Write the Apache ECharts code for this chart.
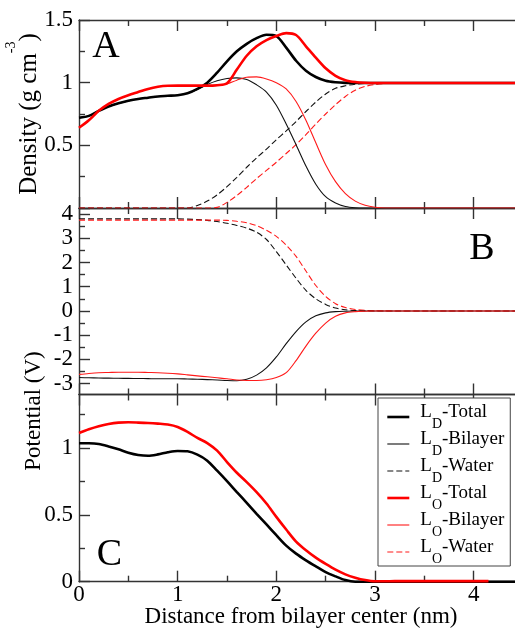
<!DOCTYPE html>
<html>
<head>
<meta charset="utf-8">
<script src="https://cdn.jsdelivr.net/npm/echarts@6/dist/echarts.min.js"></script>
<style>
  html, body { margin: 0; padding: 0; background: #fff; }
  #chart { width: 515px; height: 628px; }
</style>
</head>
<body>
<div id="chart"></div>
<script>
// Distance from bilayer center (nm), shared by panels A and B
const distance = [0, 0.1, 0.2, 0.3, 0.4, 0.5, 0.6, 0.7, 0.8, 0.9,
  1.0, 1.1, 1.2, 1.3, 1.4, 1.5, 1.6, 1.7, 1.8, 1.9,
  2.0, 2.1, 2.2, 2.3, 2.4, 2.5, 2.6, 2.7, 2.8, 2.9,
  3.0, 3.1, 3.2, 3.5, 4.0, 4.5];

// Panel A: mass density (g cm^-3)
const densityLdTotal = [0.72, 0.735, 0.775, 0.81, 0.835, 0.855, 0.87, 0.88, 0.89, 0.895,
  0.90, 0.915, 0.95, 1.00, 1.08, 1.17, 1.25, 1.31, 1.355, 1.382,
  1.372, 1.28, 1.175, 1.095, 1.045, 1.015, 1.003, 0.998, 0.997, 0.997,
  0.997, 0.997, 0.997, 0.997, 0.997, 0.997];
const densityLdBilayer = [0.72, 0.735, 0.775, 0.81, 0.835, 0.855, 0.87, 0.88, 0.89, 0.895,
  0.90, 0.915, 0.945, 0.985, 1.015, 1.033, 1.038, 1.025, 0.983, 0.925,
  0.82, 0.67, 0.505, 0.335, 0.19, 0.09, 0.04, 0.012, 0.002, 0,
  0, 0, 0, 0, 0, 0];
const densityLdWater = [0, 0, 0, 0, 0, 0, 0, 0, 0, 0,
  0, 0, 0.02, 0.055, 0.105, 0.17, 0.245, 0.325, 0.40, 0.47,
  0.545, 0.615, 0.69, 0.77, 0.845, 0.91, 0.955, 0.975, 0.988, 0.994,
  0.997, 0.997, 0.997, 0.997, 0.997, 0.997];
const densityLoTotal = [0.64, 0.70, 0.775, 0.83, 0.87, 0.90, 0.925, 0.95, 0.967, 0.975,
  0.976, 0.976, 0.976, 0.976, 0.98, 0.995, 1.105, 1.215, 1.29, 1.34,
  1.372, 1.395, 1.38, 1.29, 1.2, 1.115, 1.055, 1.02, 1.005, 0.999,
  0.997, 0.997, 0.997, 0.997, 0.997, 0.997];
const densityLoBilayer = [0.64, 0.70, 0.775, 0.83, 0.87, 0.90, 0.925, 0.95, 0.967, 0.975,
  0.976, 0.976, 0.976, 0.976, 0.978, 0.99, 1.02, 1.043, 1.046, 1.03,
  1.0, 0.95, 0.85, 0.70, 0.52, 0.345, 0.21, 0.115, 0.055, 0.022,
  0.006, 0, 0, 0, 0, 0];
const densityLoWater = [0, 0, 0, 0, 0, 0, 0, 0, 0, 0,
  0, 0, 0, 0, 0.005, 0.045, 0.10, 0.165, 0.235, 0.30,
  0.365, 0.435, 0.505, 0.585, 0.67, 0.75, 0.825, 0.89, 0.94, 0.97,
  0.985, 0.993, 0.996, 0.997, 0.997, 0.997];

// Panel B: electrostatic potential of each component (V)
const potentialLdBilayer = [-2.75, -2.76, -2.77, -2.775, -2.78, -2.785, -2.79, -2.795, -2.80, -2.80,
  -2.80, -2.81, -2.82, -2.835, -2.85, -2.87, -2.88, -2.82, -2.65, -2.35,
  -1.9, -1.35, -0.85, -0.45, -0.2, -0.08, -0.03, -0.01, 0, 0,
  0, 0, 0, 0, 0, 0];
const potentialLdWater = [3.80, 3.80, 3.80, 3.80, 3.80, 3.80, 3.80, 3.80, 3.80, 3.80,
  3.80, 3.79, 3.77, 3.74, 3.69, 3.62, 3.53, 3.42, 3.25, 2.95,
  2.45, 1.9, 1.35, 0.85, 0.5, 0.27, 0.12, 0.05, 0.015, 0.003,
  0, 0, 0, 0, 0, 0];
const potentialLoBilayer = [-2.62, -2.58, -2.55, -2.54, -2.53, -2.53, -2.53, -2.54, -2.55, -2.57,
  -2.60, -2.64, -2.68, -2.72, -2.76, -2.80, -2.85, -2.87, -2.87, -2.84,
  -2.75, -2.55, -2.05, -1.45, -0.92, -0.5, -0.22, -0.08, -0.03, -0.01,
  0, 0, 0, 0, 0, 0];
const potentialLoWater = [3.75, 3.75, 3.75, 3.75, 3.75, 3.75, 3.75, 3.75, 3.75, 3.75,
  3.75, 3.75, 3.75, 3.75, 3.75, 3.74, 3.70, 3.64, 3.52, 3.33,
  3.08, 2.72, 2.25, 1.65, 1.05, 0.6, 0.3, 0.14, 0.06, 0.025,
  0.01, 0.003, 0, 0, 0, 0];

// Panel C: total potential (V)
const distanceC = [0, 0.1, 0.2, 0.3, 0.4, 0.5, 0.6, 0.7, 0.8, 0.9,
  1.0, 1.1, 1.2, 1.3, 1.4, 1.5, 1.6, 1.7, 1.8, 1.9,
  2.0, 2.1, 2.2, 2.3, 2.4, 2.5, 2.6, 2.7, 2.8, 2.9,
  3.0, 3.1, 3.2, 3.5, 4.0, 4.15, 4.5];
const totalPotentialLd = [1.035, 1.035, 1.03, 1.012, 0.99, 0.965, 0.948, 0.942, 0.952, 0.968,
  0.978, 0.975, 0.95, 0.905, 0.83, 0.752, 0.67, 0.59, 0.508, 0.428,
  0.348, 0.27, 0.21, 0.16, 0.115, 0.072, 0.04, 0.012, 0, 0,
  0, 0, 0, 0, 0, 0, 0];
const totalPotentialLo = [1.112, 1.14, 1.163, 1.18, 1.19, 1.192, 1.19, 1.187, 1.182, 1.175,
  1.157, 1.12, 1.075, 1.037, 0.98, 0.895, 0.815, 0.745, 0.67, 0.585,
  0.485, 0.39, 0.30, 0.235, 0.18, 0.133, 0.09, 0.055, 0.03, 0.012,
  0.003, 0.003, 0.004, 0.004, 0.004, 0.004, null];

// Tick positions
const xMajorTicks = [0, 1, 2, 3, 4];
const xMinorTicks = [0.5, 1.5, 2.5, 3.5];
const densityMajorTicks = [0, 0.5, 1, 1.5];
const densityLabels = [0.5, 1, 1.5];
const densityMinorTicks = [0.25, 0.75, 1.25];
const potentialMajorTicks = [-3, -2, -1, 0, 1, 2, 3, 4];
const potentialMinorTicks = [-2.5, -1.5, -0.5, 0.5, 1.5, 2.5, 3.5];
const totalMajorTicks = [0, 0.5, 1];
const totalMinorTicks = [0.25, 0.75, 1.25];

// Legend entries: [subscript, suffix]
const seriesNames = ['LD-Total', 'LD-Bilayer', 'LD-Water', 'LO-Total', 'LO-Bilayer', 'LO-Water'];
const legendParts = {
  'LD-Total': ['D', '-Total'], 'LD-Bilayer': ['D', '-Bilayer'], 'LD-Water': ['D', '-Water'],
  'LO-Total': ['O', '-Total'], 'LO-Bilayer': ['O', '-Bilayer'], 'LO-Water': ['O', '-Water']
};

const SERIF = '"Liberation Serif", "Times New Roman", serif';
const frame = { color: '#333', width: 1.4 };
const MAJOR_LEN = 11, MINOR_LEN = 6;

const grids = [
  { left: 79, top: 20, width: 444, height: 188, outerBoundsMode: 'none' },
  { left: 79, top: 208, width: 444, height: 186.5, outerBoundsMode: 'none' },
  { left: 79, top: 394.5, width: 444, height: 187.2, outerBoundsMode: 'none' }
];

const tickLabel = { fontFamily: SERIF, fontSize: 23, color: '#000' };

function xAxesFor(g, withLabels) {
  const base = { type: 'value', gridIndex: g, min: 0, max: 4.5, splitLine: { show: false } };
  const tick = (vals, len) => ({ show: true, inside: true, length: len, lineStyle: frame, customValues: vals });
  return [
    Object.assign({}, base, { position: 'bottom', axisLine: { show: true, onZero: false, lineStyle: frame },
      axisTick: tick(xMajorTicks, MAJOR_LEN),
      axisLabel: withLabels ? Object.assign({ show: true, margin: 2, customValues: xMajorTicks }, tickLabel) : { show: false } }),
    Object.assign({}, base, { position: 'bottom', axisLine: { show: false, onZero: false },
      axisTick: tick(xMinorTicks, MINOR_LEN), axisLabel: { show: false } }),
    Object.assign({}, base, { position: 'top', axisLine: { show: true, onZero: false, lineStyle: frame },
      axisTick: tick(xMajorTicks, MAJOR_LEN), axisLabel: { show: false } }),
    Object.assign({}, base, { position: 'top', axisLine: { show: false, onZero: false },
      axisTick: tick(xMinorTicks, MINOR_LEN), axisLabel: { show: false } })
  ];
}

function yAxesFor(g, min, max, major, minor, labels) {
  const base = { type: 'value', gridIndex: g, min: min, max: max, position: 'left', splitLine: { show: false } };
  return [
    Object.assign({}, base, { axisLine: { show: true, onZero: false, lineStyle: frame },
      axisTick: { show: true, inside: true, length: MAJOR_LEN, lineStyle: frame, customValues: major },
      axisLabel: Object.assign({ show: true, margin: 6, customValues: labels }, tickLabel) }),
    Object.assign({}, base, { axisLine: { show: false, onZero: false },
      axisTick: { show: true, inside: true, length: MINOR_LEN, lineStyle: frame, customValues: minor },
      axisLabel: { show: false } })
  ];
}

const xAxis = [].concat(xAxesFor(0, false), xAxesFor(1, false), xAxesFor(2, true));
const yAxis = [].concat(
  yAxesFor(0, 0, 1.5, densityMajorTicks, densityMinorTicks, densityLabels),
  yAxesFor(1, -3.45, 4.25, potentialMajorTicks, potentialMinorTicks, potentialMajorTicks),
  yAxesFor(2, 0, 1.4, totalMajorTicks, totalMinorTicks, totalMajorTicks)
);

const styles = {
  'LD-Total':   { color: '#000', width: 2.6, type: 'solid' },
  'LD-Bilayer': { color: '#111', width: 1.1, type: 'solid' },
  'LD-Water':   { color: '#111', width: 1.1, type: [6, 3] },
  'LO-Total':   { color: '#ff0000', width: 2.6, type: 'solid' },
  'LO-Bilayer': { color: '#ff1a1a', width: 1.1, type: 'solid' },
  'LO-Water':   { color: '#ff1a1a', width: 1.1, type: [6, 3] }
};

function line(name, panel, xs, ys) {
  const st = styles[name];
  return {
    type: 'line', name: name,
    xAxisIndex: panel * 4, yAxisIndex: panel * 2,
    data: xs.map((x, i) => [x, ys[i]]),
    showSymbol: false, symbol: 'none',
    smooth: 0.3,
    connectNulls: false,
    lineStyle: { color: st.color, width: st.width, type: st.type },
    itemStyle: { color: st.color },
    emphasis: { disabled: true },
    silent: true
  };
}

const series = [
  line('LD-Water', 0, distance, densityLdWater),
  line('LO-Water', 0, distance, densityLoWater),
  line('LD-Bilayer', 0, distance, densityLdBilayer),
  line('LO-Bilayer', 0, distance, densityLoBilayer),
  line('LD-Total', 0, distance, densityLdTotal),
  line('LO-Total', 0, distance, densityLoTotal),

  line('LD-Water', 1, distance, potentialLdWater),
  line('LO-Water', 1, distance, potentialLoWater),
  line('LD-Bilayer', 1, distance, potentialLdBilayer),
  line('LO-Bilayer', 1, distance, potentialLoBilayer),

  line('LD-Total', 2, distanceC, totalPotentialLd),
  line('LO-Total', 2, distanceC, totalPotentialLo)
];

function panelLetter(text, x, y) {
  return { type: 'text', x: x, y: y, silent: true,
    style: { text: text, fontFamily: SERIF, fontSize: 38, fill: '#000', align: 'center', verticalAlign: 'middle' } };
}

const graphic = [
  panelLetter('A', 106, 47),
  panelLetter('B', 482, 249),
  panelLetter('C', 109.5, 555),
  { type: 'text', x: 29, y: 114, rotation: Math.PI / 2, silent: true,
    style: { text: '{m|Density (g cm}{p|-3}{m|)}', align: 'center', verticalAlign: 'middle',
      fontFamily: SERIF, fill: '#000',
      rich: {
        m: { fontFamily: SERIF, fontSize: 25, lineHeight: 50, fill: '#000' },
        p: { fontFamily: SERIF, fontSize: 14, lineHeight: 50, verticalAlign: 'top', fill: '#000' }
      } } },
  { type: 'text', x: 34, y: 411, rotation: Math.PI / 2, silent: true,
    style: { text: 'Potential (V)', fontFamily: SERIF, fontSize: 23, fill: '#000', align: 'center', verticalAlign: 'middle' } },
  { type: 'text', x: 301, y: 617, silent: true,
    style: { text: 'Distance from bilayer center (nm)', fontFamily: SERIF, fontSize: 23, fill: '#000', align: 'center', verticalAlign: 'middle' } }
];

const chart = echarts.init(document.getElementById('chart'), null, { renderer: 'canvas' });
chart.setOption({
  animation: false,
  backgroundColor: '#fff',
  grid: grids,
  xAxis: xAxis,
  yAxis: yAxis,
  legend: {
    orient: 'vertical', left: 378, top: 398,
    padding: [5, 6, 0, 8],
    itemWidth: 22, itemHeight: 14, itemGap: -1,
    borderColor: '#444', borderWidth: 1, borderRadius: 0,
    backgroundColor: '#fff',
    selectedMode: false,
    data: seriesNames,
    itemStyle: { opacity: 0 },
    lineStyle: { width: 'inherit', type: 'inherit' },
    formatter: function (name) {
      const p = legendParts[name];
      return '{f|L}{s|' + p[0] + '}{m|' + p[1] + '}';
    },
    textStyle: {
      fontFamily: SERIF, fontSize: 19, color: '#000',
      rich: {
        f: { fontFamily: SERIF, fontSize: 19, lineHeight: 28, color: '#000', verticalAlign: 'top', padding: [0, 0, 0, 6] },
        m: { fontFamily: SERIF, fontSize: 19, lineHeight: 28, color: '#000', verticalAlign: 'top' },
        s: { fontFamily: SERIF, fontSize: 14, lineHeight: 28, color: '#000', verticalAlign: 'bottom' }
      }
    }
  },
  graphic: graphic,
  series: series
});
</script>
</body>
</html>
